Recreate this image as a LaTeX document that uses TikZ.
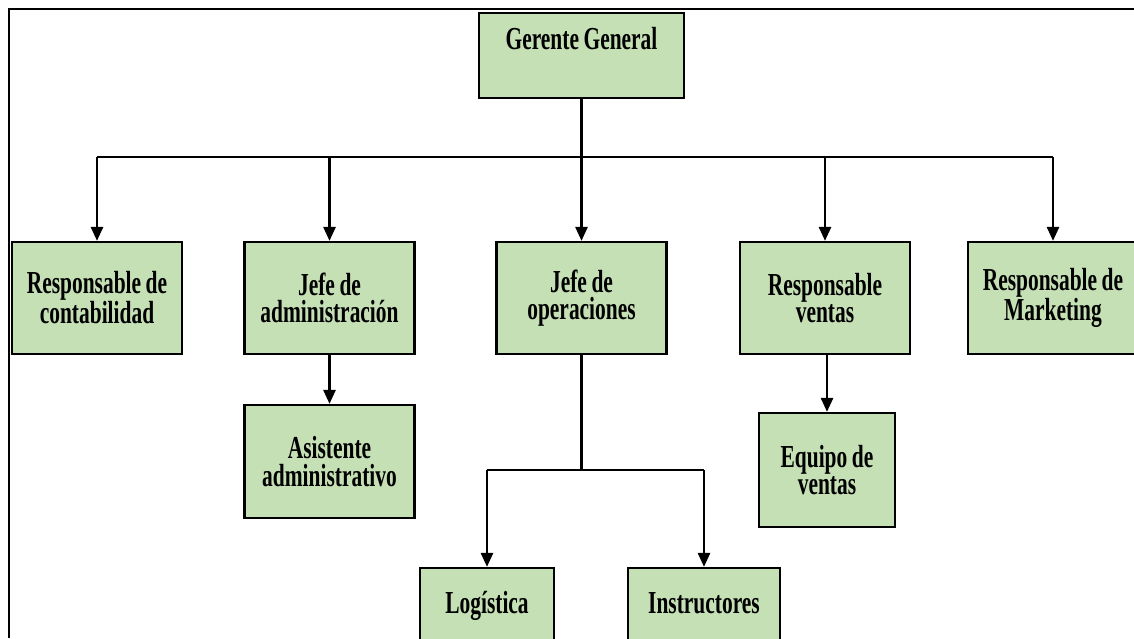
\documentclass[tikz,border=0pt]{standalone}
\usepackage{fontspec}
\newfontfamily\chartfont{Liberation Serif}[FakeStretch=0.67,WordSpace=0.85]
\usetikzlibrary{arrows.meta}
\definecolor{boxgreen}{HTML}{C5E0B4}
\begin{document}
\begin{tikzpicture}[x=1pt,y=-1pt,
  unit/.style={draw=black, line width=2.2pt, fill=boxgreen, rectangle,
    inner sep=0pt, align=center, minimum width=#1,
    font=\chartfont\bfseries\fontsize{32}{27.5}\selectfont},
  unit/.default=170pt,
  label/.style={anchor=base, inner sep=0pt,
    font=\chartfont\bfseries\fontsize{32}{27.5}\selectfont},
  link/.style={line width=2.6pt},
  arrow/.style={line width=2.6pt, -{Triangle[length=14pt,width=12pt]}}]
\useasboundingbox (0,0) rectangle (1134,638);
\clip (0,0) rectangle (1134,638);
\fill[white] (0,0) rectangle (1134,638);

% frame along the top and left
\draw[line width=2.5pt] (9,638) -- (9,9) -- (1134,9);

% top level
\node[unit=205pt, minimum height=85pt] (gg) at (581.5,55.5) {};
\node[label] (ggt) at (581.5,49) {Gerente General};

% second level
\node[unit, minimum height=112pt] (c1) at (97,298) {Responsable de\\contabilidad};
\node[unit, minimum height=112pt] (c2) at (329.5,298) {Jefe de\\administración};
\node[unit, minimum height=112pt] (c3) at (581.5,298) {Jefe de\\operaciones};
\node[unit, minimum height=112pt] (c4) at (825,298) {Responsable\\ventas};
\node[unit, minimum height=112pt] (c5) at (1053,298) {Responsable de\\Marketing};

% third level
\node[unit, minimum height=113pt] (a1) at (329.5,461.5) {Asistente\\administrativo};
\node[unit=136pt, minimum height=114pt] (e1) at (827,470) {Equipo de\\ventas};
\node[unit=134pt, minimum height=112pt] (l1) at (487,624) {};
\node[label] (l1t) at (487,613) {Logística};
\node[unit=152pt, minimum height=112pt] (i1) at (704,624) {};
\node[label] (i1t) at (704,613) {Instructores};

% bus under the general manager
\coordinate (bus) at (581.5,157);
\draw[link] (gg.south) -- (bus);
\draw[link] (c1.north |- bus) -- (c5.north |- bus);
\foreach \n in {c1,c2,c3,c4,c5}
  \draw[arrow] (\n.north |- bus) -- (\n.north);

% direct reports below
\draw[arrow] (c2.south) -- (a1.north);
\draw[arrow] (c4.south -| e1.north) -- (e1.north);

% operations split
\coordinate (opsbus) at (581.5,470);
\draw[link] (c3.south) -- (opsbus);
\draw[link] (l1.north |- opsbus) -- (i1.north |- opsbus);
\draw[arrow] (l1.north |- opsbus) -- (l1.north);
\draw[arrow] (i1.north |- opsbus) -- (i1.north);
\end{tikzpicture}
\end{document}
